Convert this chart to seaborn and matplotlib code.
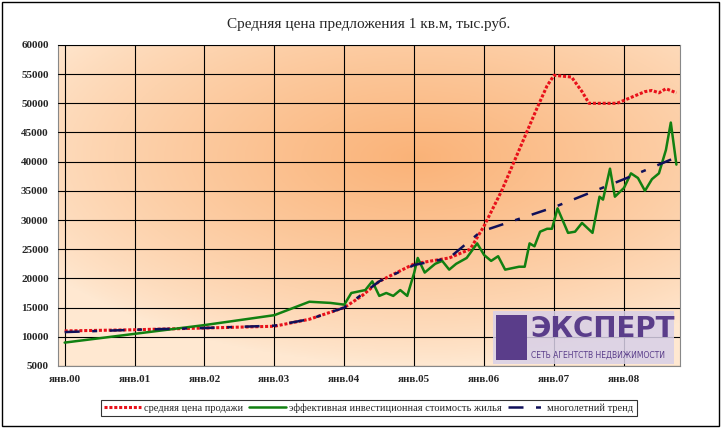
import numpy as np
import pandas as pd
import seaborn as sns
from matplotlib import pyplot as plt
from matplotlib.patches import Rectangle

# years since Jan 2000
red_x = [0, 1, 2, 3, 3.5, 4, 4.25, 4.5, 4.75, 5, 5.5, 5.8, 6, 6.25, 6.5, 6.75, 6.9, 7, 7.25, 7.4, 7.5, 7.9, 8.1, 8.3, 8.4, 8.5, 8.6, 8.75]
red_y = [11000, 11200, 11500, 11800, 13000, 15000, 17000, 19500, 21000, 22500, 23500, 25000, 29000, 35000, 42000, 49000, 53000, 54800, 54500, 52000, 50000, 50000, 51000, 52000, 52200, 51800, 52500, 51800]

green_x = [0, 1, 2, 3, 3.5, 3.8, 4.0, 4.1, 4.3, 4.4, 4.5, 4.6, 4.7, 4.8, 4.9, 5.0, 5.05, 5.15, 5.3, 5.4, 5.5, 5.6, 5.75,
           5.9, 6.0, 6.1, 6.2, 6.3, 6.5, 6.58, 6.65, 6.72, 6.8, 6.9, 6.97, 7.05, 7.2, 7.3, 7.4, 7.55, 7.65, 7.7, 7.8,
           7.87, 8.0, 8.1, 8.2, 8.3, 8.4, 8.5, 8.6, 8.67, 8.75]
green_y = [9000, 10500, 12000, 13700, 16000, 15800, 15500, 17500, 18000, 19500, 17000, 17500, 17000, 18000, 17000, 21000,
           23500, 21000, 22500, 23000, 21500, 22500, 23500, 26000, 24000, 23000, 23800, 21500, 22000, 22000, 26000, 25500,
           28000, 28500, 28500, 32000, 27800, 28000, 29500, 27800, 34000, 33500, 38800, 34000, 35500, 38000, 37200, 35000,
           37000, 38000, 42000, 46700, 39500]

trend_x = [0, 1, 2, 3, 3.5, 4, 4.5, 5, 5.5, 5.95, 7, 8, 8.7]
trend_y = [10800, 11200, 11500, 11900, 13000, 15000, 19500, 22300, 23500, 28000, 32200, 37000, 40500]

tick_labels = ['янв.00', 'янв.01', 'янв.02', 'янв.03', 'янв.04', 'янв.05', 'янв.06', 'янв.07', 'янв.08']

sns.set_style('white')
plt.rcParams['font.family'] = ['Liberation Serif', 'DejaVu Serif']

fig = plt.figure(figsize=(7.21, 4.28), dpi=100)
fig.patches.append(Rectangle((0.003, 0.005), 0.994, 0.99, transform=fig.transFigure,
                             fill=False, edgecolor='black', lw=1))
ax = fig.add_axes([0.08, 0.145, 0.863, 0.75])

# orange background gradient: light at left/bottom, darker toward upper middle-right
gx, gy = np.meshgrid(np.linspace(-1, 1, 200), np.linspace(-1, 1, 200))
g = np.clip(1 - np.sqrt((gx - 0.15) ** 2 * 0.5 + (gy - 0.3) ** 2 * 0.6), 0, 1) ** 0.8
light = np.array([1.0, 0.91, 0.82])
dark = np.array([0.98, 0.70, 0.47])
img = light + (dark - light) * g[..., None]
ax.imshow(img, extent=[-0.1, 8.8, 5000, 60000], aspect='auto', origin='lower', zorder=0)

sns.lineplot(x=red_x, y=red_y, ax=ax, color='#e8101a', lw=2.2, linestyle=(0, (1, 0.6)),
             label='средняя цена продажи', zorder=3)
sns.lineplot(x=green_x, y=green_y, ax=ax, color='#118011', lw=1.8,
             label='эффективная инвестиционная стоимость жилья', zorder=4)
sns.lineplot(x=trend_x, y=trend_y, ax=ax, color='#10105a', lw=1.8, linestyle=(0, (6, 5, 2, 5)),
             label='многолетний тренд', zorder=5)

ax.set_xlim(-0.1, 8.8)
ax.set_ylim(5000, 60000)
ax.set_yticks(range(5000, 60001, 5000))
ax.set_xticks(range(9))
ax.set_xticklabels(tick_labels)
ax.tick_params(labelsize=8, length=3, direction='out')
for lab in ax.get_xticklabels() + ax.get_yticklabels():
    lab.set_fontweight('bold')
ax.grid(True, color='black', lw=0.8)
ax.set_axisbelow(False)
for line in ax.get_xgridlines() + ax.get_ygridlines():
    line.set_zorder(1)
for s in ax.spines.values():
    s.set_color('#888888')

ax.set_title('Средняя цена предложения 1 кв.м, тыс.руб.', fontsize=11, pad=12)

leg = ax.legend(loc='upper center', bbox_to_anchor=(0.5, -0.09), ncol=3, fontsize=7.5,
                frameon=True, fancybox=False, edgecolor='black', handlelength=3.5,
                columnspacing=0.6, handletextpad=0.3, borderpad=0.3)
leg.get_frame().set_linewidth(0.8)

# logo
ax.add_patch(Rectangle((0.70, 0.005), 0.29, 0.165, transform=ax.transAxes, facecolor='#d8d0e8',
                       edgecolor='none', alpha=0.85, zorder=6))
ax.text(0.76, 0.115, 'ЭКСПЕРТ', transform=ax.transAxes, fontsize=20, fontweight='bold',
        color='#5a3d8a', family='DejaVu Sans', va='center', zorder=7)
ax.text(0.76, 0.035, 'СЕТЬ АГЕНТСТВ НЕДВИЖИМОСТИ', transform=ax.transAxes, fontsize=5.5,
        color='#5a3d8a', family='DejaVu Sans', va='center', zorder=7)
ax.add_patch(Rectangle((0.705, 0.02), 0.05, 0.14, transform=ax.transAxes, facecolor='#5a3d8a',
                       edgecolor='none', zorder=7))

fig.savefig('out.png', dpi=100)
